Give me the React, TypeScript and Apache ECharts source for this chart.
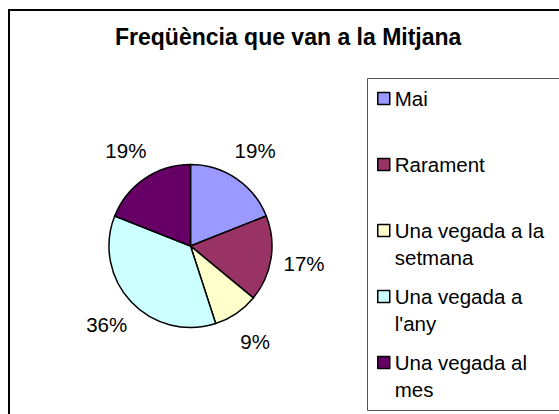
import React, { useEffect, useRef } from "react";
import * as echarts from "echarts";

const titleText = "Freqüència que van a la Mitjana";
const categories = [
  "Mai",
  "Rarament",
  "Una vegada a la setmana",
  "Una vegada a l'any",
  "Una vegada al mes",
];
const legendLabels = [
  "\nMai\n",
  "\nRarament\n",
  "\nUna vegada a la\nsetmana",
  "\nUna vegada a\nl'any",
  "\nUna vegada al\nmes",
];
const percentages = [19, 17, 9, 36, 19];
const colors = ["#9999FF", "#993366", "#FFFFCC", "#CCFFFF", "#660066"];

const FONT = "'Liberation Sans', Arial, sans-serif";

export default function App() {
  const ref = useRef<HTMLDivElement>(null);
  useEffect(() => {
    if (!ref.current) return;
    const chart = echarts.init(ref.current, null, { renderer: "svg" });
    const data = categories.map((name, i) => ({
      name,
      value: percentages[i],
      itemStyle: { color: colors[i] },
    }));
    const labelMap: Record<string, string> = {};
    categories.forEach((c, i) => (labelMap[c] = legendLabels[i]));
    chart.setOption({
      animation: false,
      backgroundColor: "#ffffff",
      title: {
        text: titleText,
        left: 115,
        top: 25,
        padding: 0,
        textStyle: {
          fontFamily: FONT,
          fontSize: 23,
          fontWeight: "bold",
          color: "#000",
        },
      },
      graphic: [
        {
          type: "rect",
          shape: { x: 9, y: 10, width: 600, height: 500 },
          style: { fill: "none", stroke: "#000", lineWidth: 2 },
          silent: true,
          z: 0,
        },
        {
          type: "rect",
          shape: { x: 367.5, y: 78.5, width: 300, height: 332 },
          style: { fill: "none", stroke: "#555", lineWidth: 1 },
          silent: true,
          z: 0,
        },
      ],
      legend: {
        orient: "vertical",
        left: 377,
        top: 58,
        padding: 0,
        itemWidth: 12,
        itemHeight: 12,
        itemGap: -15,
        selectedMode: false,
        data: categories,
        icon: "rect",
        itemStyle: { borderColor: "#000", borderWidth: 1.5 },
        formatter: (name: string) => labelMap[name],
        textStyle: {
          fontFamily: FONT,
          fontSize: 20.5,
          lineHeight: 27,
          color: "#000",
        },
      },
      series: [
        {
          type: "pie",
          center: [190.5, 246],
          radius: [0, 81.5],
          startAngle: 90,
          clockwise: true,
          silent: true,
          label: { show: false },
          labelLine: { show: false },
          emphasis: { disabled: true },
          itemStyle: { borderColor: "#000", borderWidth: 1.5 },
          data,
        },
        {
          type: "pie",
          name: "labels",
          center: [190.5, 246],
          radius: [0, 224],
          startAngle: 90,
          clockwise: true,
          silent: true,
          legendHoverLink: false,
          emphasis: { disabled: true },
          itemStyle: { color: "rgba(0,0,0,0)", borderWidth: 0 },
          labelLine: { show: false },
          label: {
            show: true,
            position: "inside",
            formatter: "{c}%",
            fontFamily: FONT,
            fontSize: 20.5,
            color: "#000",
          },
          data: categories.map((name, i) => ({
            name: name + " ",
            value: percentages[i],
          })),
          z: 3,
        },
      ],
    });
    return () => chart.dispose();
  }, []);
  return (
    <div
      ref={ref}
      style={{ position: "absolute", left: 0, top: 0, width: 559, height: 414 }}
    />
  );
}
